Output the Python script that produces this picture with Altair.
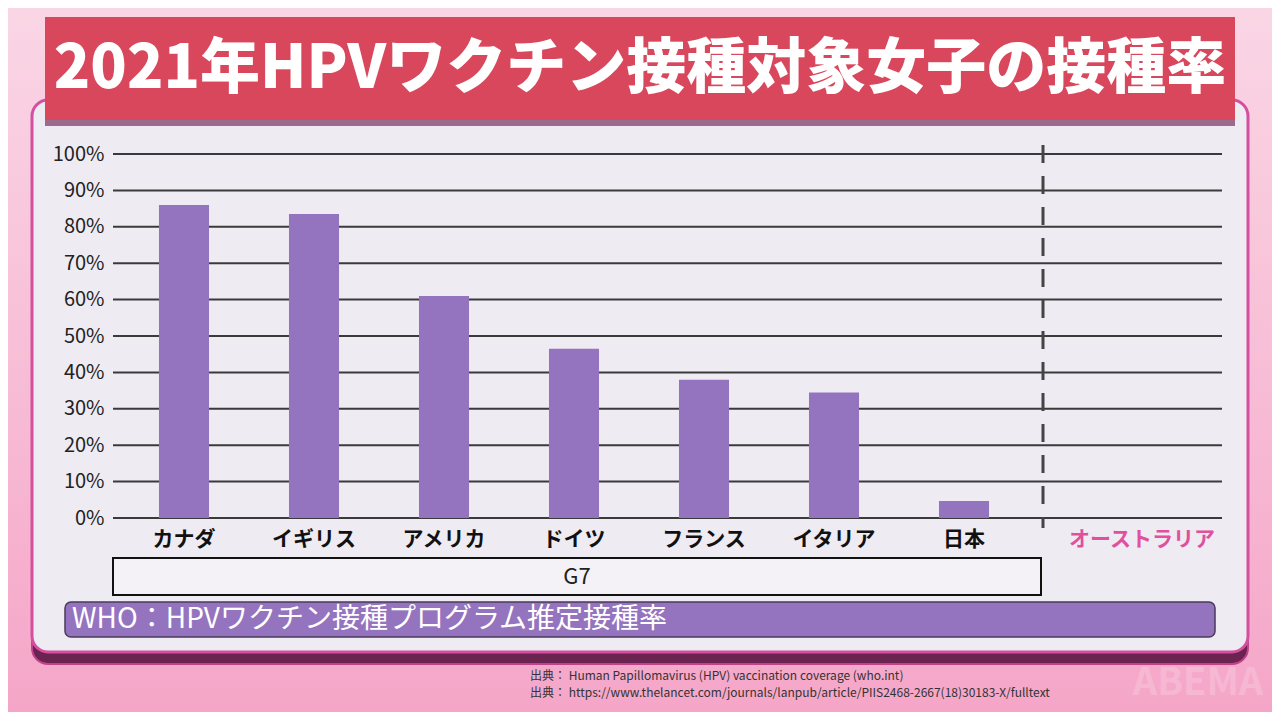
import altair as alt
import pandas as pd

# ---- data ----
countries = ["カナダ", "イギリス", "アメリカ", "ドイツ", "フランス", "イタリア", "日本"]
rates = [86, 83.5, 61, 46.5, 38, 34.5, 4.7]
extra_country = "オーストラリア"
y_ticks = [0, 10, 20, 30, 40, 50, 60, 70, 80, 90, 100]
title_text = "2021年HPVワクチン接種対象女子の接種率"
group_label = "G7"
who_label = "WHO：HPVワクチン接種プログラム推定接種率"
sources = [
    "出典： Human Papillomavirus (HPV) vaccination coverage (who.int)",
    "出典： https://www.thelancet.com/journals/lanpub/article/PIIS2468-2667(18)30183-X/fulltext",
]

FONT = "Noto Sans CJK JP"
W, H = 1109, 364

df = pd.DataFrame({"country": countries, "rate": rates})
grid_df = pd.DataFrame({"v": y_ticks})
one = pd.DataFrame({"k": [0]})

def box(x, x2, y, y2, **kw):
    return alt.Chart(one).mark_rect(**kw).encode(
        x=alt.value(x), x2=alt.value(x2), y=alt.value(y), y2=alt.value(y2)
    )

def label(text, x, y, **kw):
    return alt.Chart(pd.DataFrame({"t": [text]})).mark_text(**kw).encode(
        x=alt.value(x), y=alt.value(y), text="t:N"
    )

y_scale = alt.Scale(domain=[0, 100])
y_axis = alt.Axis(values=y_ticks, labelExpr="datum.value + '%'",
                  labelFont=FONT, labelFontSize=20, labelColor="#222",
                  labelPadding=9, ticks=False, domain=False, grid=False,
                  labelOverlap=False, labelBound=False, zindex=1)

bg = box(-105, 1159, -146, 558,
         fill=alt.Gradient(gradient="linear",
                           stops=[alt.GradientStop(color="#fad6e5", offset=0),
                                  alt.GradientStop(color="#f5a6c8", offset=1)],
                           x1=0, x2=0, y1=0, y2=1))
shadow = box(-81, 1135, -44, 510, fill="#6b2350", cornerRadius=16,
             stroke="#c2418c", strokeWidth=2)
panel = box(-81, 1135, -54, 498, fill="#efebf2", cornerRadius=16,
            stroke="#d44f9f", strokeWidth=3)
banner = box(-68, 1122, -137, -34, fill="#d9475c")
banner_strip = box(-68, 1122, -34, -28, fill="#9b6a8c")
title = label(title_text, 527, -84, font=FONT, fontSize=60, fontWeight=900,
              color="white", align="center", baseline="middle")

grid = alt.Chart(grid_df).mark_rule(color="#3a3a3a", strokeWidth=2).encode(
    y=alt.Y("v:Q", scale=y_scale, axis=y_axis, title=None),
    x=alt.value(0), x2=alt.value(W),
)

bars = alt.Chart(df).mark_bar(color="#9574bf").encode(
    x=alt.X("country:N", sort=countries, title=None,
            scale=alt.Scale(range=[6, 916], paddingInner=0.615, paddingOuter=0.3075),
            axis=alt.Axis(labelAngle=0, labelFont=FONT, labelFontSize=21,
                          labelFontWeight="bold", labelColor="#111",
                          labelPadding=10, ticks=False, domain=False, zindex=1)),
    y=alt.Y("rate:Q", scale=y_scale, axis=y_axis, title=None),
)

dash = alt.Chart(one).mark_rule(color="#444", strokeWidth=3,
                                strokeDash=[18, 13]).encode(
    x=alt.value(930), y=alt.value(-9), y2=alt.value(374)
)
aus = label(extra_country, 1029, 386, font=FONT, fontSize=21, fontWeight="bold",
            color="#e0509e", align="center", baseline="middle")

g7_box = box(0, 928, 404, 441, fill="#f4f1f7", stroke="#111", strokeWidth=2)
g7_txt = label(group_label, 464, 423, font=FONT, fontSize=22, color="#222",
               align="center", baseline="middle")

who_box = box(-48, 1102, 448, 483, fill="#9574bf", stroke="#4a3a5a",
              strokeWidth=1.5, cornerRadius=6)
who_txt = label(who_label, -41, 466, font=FONT, fontSize=28, color="white",
                align="left", baseline="middle")

src1 = label(sources[0], 417, 522, font=FONT, fontSize=12, color="#333",
             align="left", baseline="middle")
src2 = label(sources[1], 417, 539, font=FONT, fontSize=12, color="#333",
             align="left", baseline="middle")
mark = label("ABEMA", 1085, 530, font=FONT, fontSize=38, fontWeight="bold",
             color="white", opacity=0.18, align="center", baseline="middle")

chart = alt.layer(
    bg, shadow, panel, banner, banner_strip, title,
    grid, bars, dash, aus, g7_box, g7_txt, who_box, who_txt, src1, src2, mark
).properties(width=W, height=H, padding=0).configure_view(stroke=None)

chart.save("out.html", embed_options={"renderer": "svg", "actions": False})
